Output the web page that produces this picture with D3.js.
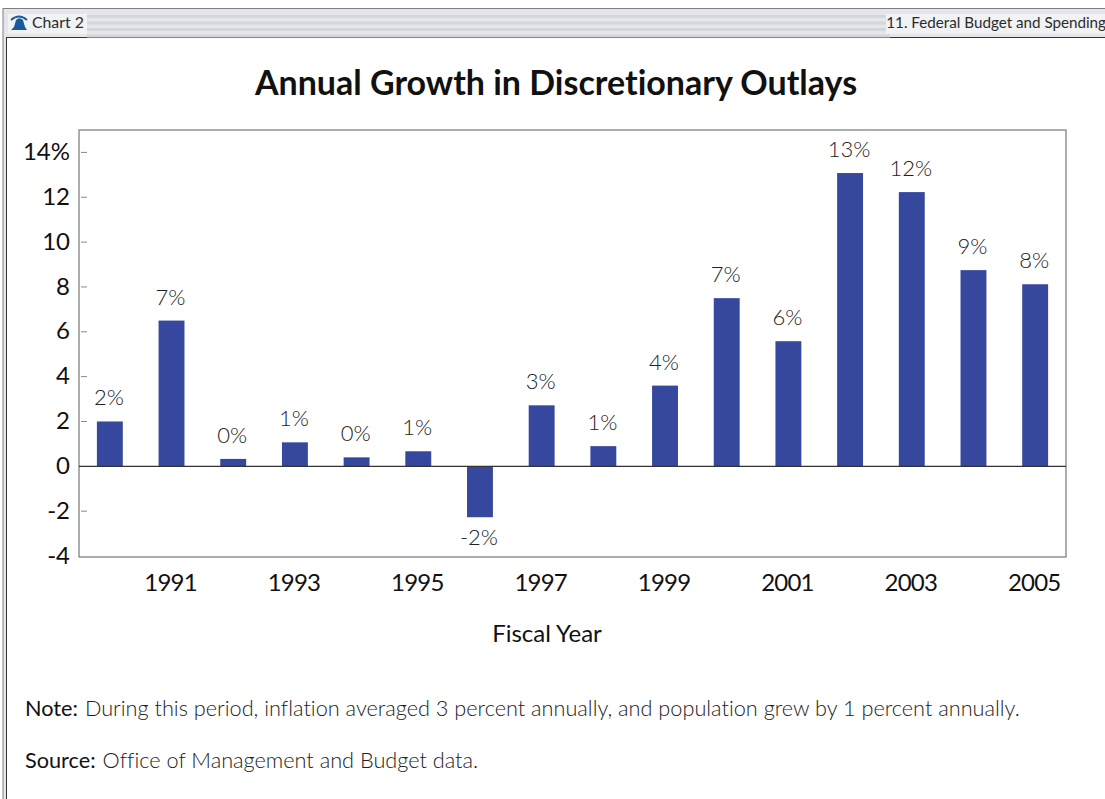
<!DOCTYPE html>
<html>
<head>
<meta charset="utf-8">
<script src="https://cdn.jsdelivr.net/npm/d3@7/dist/d3.min.js"></script>
<style>
html,body{margin:0;padding:0;background:#fff;}
svg{display:block;}
text{font-family:Lato,"Open Sans",sans-serif;font-variant-ligatures:none;}
</style>
</head>
<body>
<svg id="chart" width="1105" height="799"></svg>
<script>
// Fiscal years and annual growth, in percent
const years = [1990,1991,1992,1993,1994,1995,1996,1997,1998,1999,2000,2001,2002,2003,2004,2005];
const growth = [2.0,6.5,0.33,1.07,0.4,0.67,-2.27,2.72,0.9,3.6,7.5,5.58,13.08,12.23,8.75,8.12];
const growthLabels = ["2%","7%","0%","1%","0%","1%","-2%","3%","1%","4%","7%","6%","13%","12%","9%","8%"];
const yTicks = [-4,-2,0,2,4,6,8,10,12,14];
const xTickYears = [1991,1993,1995,1997,1999,2001,2003,2005];
const titleText = "Annual Growth in Discretionary Outlays";
const axisTitle = "Fiscal Year";
const pageLeft = "Chart 2";
const pageRight = "11. Federal Budget and Spending";
const footnotes = [
  ["Note:", "During this period, inflation averaged 3 percent annually, and population grew by 1 percent annually."],
  ["Source:", "Office of Management and Budget data."]
];

const svg = d3.select("#chart");
const plot = {left:79, right:1066, top:130, bottom:557};

// Page frame and running header
svg.append("rect").attr("x",3).attr("y",8.5).attr("width",1110).attr("height",800)
  .attr("fill","#e4e6e9").attr("stroke","#808080").attr("stroke-width",1);
svg.append("rect").attr("x",6.5).attr("y",37.5).attr("width",1110).attr("height",780)
  .attr("fill","#fff").attr("stroke","#333").attr("stroke-width",1);
const stripes = d3.range(15,35,6.5);
svg.append("g").selectAll("rect").data(stripes).join("rect")
  .attr("x",87).attr("width",803).attr("y",d=>d).attr("height",3).attr("fill","#d3d6da");
svg.append("rect").attr("x",8).attr("y",14).attr("width",79).attr("height",20).attr("fill","#f1f2f4");
svg.append("rect").attr("x",886).attr("y",14).attr("width",219).attr("height",20).attr("fill","#f1f2f4");
svg.append("text").attr("x",32).attr("y",28).attr("font-size",15.8).attr("fill","#2b2b2b").text(pageLeft);
svg.append("text").attr("x",1106).attr("y",28).attr("text-anchor","end").attr("font-size",15.2).attr("fill","#2b2b2b").text(pageRight);

// Bell emblem beside the chart number
svg.append("path").attr("fill","#1a5a9a")
  .attr("d","M11 30 L14 27 L16 20 Q19.5 16.5 23 20 L25 27 L27 30 Z");
svg.append("path").attr("fill","none").attr("stroke","#1a5a9a").attr("stroke-width",1.8)
  .attr("d","M11 20 Q19 13 27 20");

svg.append("text").attr("x",556).attr("y",95).attr("text-anchor","middle")
  .attr("font-size",34).attr("font-weight",700).attr("fill","#111").text(titleText);

const x = d3.scaleBand().domain(years).range([plot.left,plot.right]).paddingInner(0.58).paddingOuter(0.29);
const y = d3.scaleLinear().domain([-4,15]).range([plot.bottom-1,plot.top]);

svg.append("rect").attr("x",plot.left).attr("y",plot.top).attr("width",plot.right-plot.left)
  .attr("height",plot.bottom-plot.top).attr("fill","#fff").attr("stroke","#777").attr("stroke-width",1.2);

svg.append("g").selectAll("rect").data(years).join("rect")
  .attr("x",d=>x(d))
  .attr("width",x.bandwidth())
  .attr("y",(d,i)=>Math.min(y(growth[i]),y(0)))
  .attr("height",(d,i)=>Math.abs(y(growth[i])-y(0)))
  .attr("fill","#36479e");

// Zero baseline
svg.append("line").attr("x1",plot.left).attr("x2",plot.right).attr("y1",y(0)).attr("y2",y(0))
  .attr("stroke","#333").attr("stroke-width",1.2);

// Value axis: short inner ticks, labels outside the frame
const yAxis = svg.append("g").attr("transform",`translate(${plot.left},0)`)
  .call(d3.axisLeft(y).tickValues(yTicks).tickSize(0).tickPadding(9)
    .tickFormat(d=>d===14?"14%":d));
yAxis.select(".domain").remove();
yAxis.selectAll("text").attr("font-size",24).attr("fill","#111").attr("dy","0.3em");
svg.append("g").selectAll("line").data(yTicks.filter(d=>d>-4&&d!==0)).join("line")
  .attr("x1",plot.left+2).attr("x2",plot.left+8).attr("y1",d=>y(d)).attr("y2",d=>y(d))
  .attr("stroke","#888").attr("stroke-width",1);

// Year axis labels on odd years
const xAxis = svg.append("g").attr("transform",`translate(-1,${plot.bottom})`)
  .call(d3.axisBottom(x).tickValues(xTickYears).tickSize(0).tickPadding(16));
xAxis.select(".domain").remove();
xAxis.selectAll("text").attr("font-size",24).attr("letter-spacing",-0.8).attr("fill","#111").attr("dy","0.74em");

// Value labels above positive bars and below the negative one
svg.append("g").selectAll("text").data(years).join("text")
  .attr("x",d=>x(d)+x.bandwidth()/2-1)
  .attr("y",(d,i)=>growth[i]<0?y(growth[i])+28:y(growth[i])-16)
  .attr("text-anchor","middle").attr("font-size",22).attr("font-weight",300).attr("fill","#222")
  .text((d,i)=>growthLabels[i]);

svg.append("text").attr("x",547).attr("y",642).attr("text-anchor","middle")
  .attr("font-size",24).attr("fill","#111").text(axisTitle);

// Footnotes
const notes = svg.append("g").selectAll("text").data(footnotes).join("text")
  .attr("x",25).attr("y",(d,i)=>716+i*52).attr("font-size",21.7).attr("fill","#222");
notes.append("tspan").attr("font-weight",400).attr("fill","#111").text(d=>d[0]);
notes.append("tspan").attr("font-weight",300).attr("dx",7).text(d=>d[1]);
</script>
</body>
</html>
